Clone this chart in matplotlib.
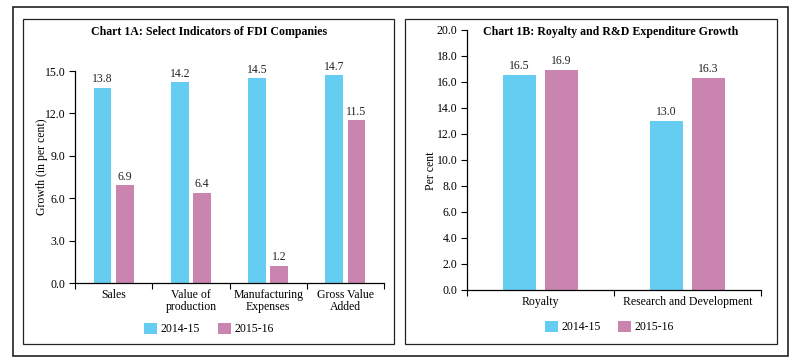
import numpy as np
import matplotlib.pyplot as plt
from matplotlib.patches import Rectangle

plt.rcParams['font.family'] = ['Liberation Serif', 'DejaVu Serif']

# Data
cats_a = ['Sales', 'Value of\nproduction', 'Manufacturing\nExpenses', 'Gross Value\nAdded']
a_1415 = [13.8, 14.2, 14.5, 14.7]
a_1516 = [6.9, 6.4, 1.2, 11.5]

cats_b = ['Royalty', 'Research and Development']
b_1415 = [16.5, 13.0]
b_1516 = [16.9, 16.3]

series = ['2014-15', '2015-16']
blue = '#66CDF2'
pink = '#C985B0'

W, H = 799, 362
fig = plt.figure(figsize=(W / 100, H / 100), dpi=100)

def box(x0, y0, x1, y1, lw=1.2):
    fig.patches.append(Rectangle((x0 / W, 1 - y1 / H), (x1 - x0) / W, (y1 - y0) / H,
                                 transform=fig.transFigure, fill=False,
                                 edgecolor='#222222', linewidth=lw))

box(13, 7, 788, 356)
box(23, 19, 394, 344, lw=0.9)
box(405, 19, 777, 344, lw=0.9)

def axes_px(x0, y0, x1, y1):
    return fig.add_axes([x0 / W, 1 - y1 / H, (x1 - x0) / W, (y1 - y0) / H])

def draw(ax, cats, v1, v2, ymax, step, ylabel):
    x = np.arange(len(cats))
    w = 0.23
    off = 0.143
    b1 = ax.bar(x - off, v1, w, color=blue, label=series[0])
    b2 = ax.bar(x + off, v2, w, color=pink, label=series[1])
    for bars, vals in ((b1, v1), (b2, v2)):
        for r, v in zip(bars, vals):
            ax.text(r.get_x() + r.get_width() / 2, v + ymax * 0.012, f'{v:.1f}',
                    ha='center', va='bottom', fontsize=8.5, color='#222222')
    ax.set_xlim(-0.5, len(cats) - 0.5)
    ax.set_ylim(0, ymax)
    ax.set_yticks(np.arange(0, ymax + 0.01, step))
    ax.set_yticklabels([f'{t:.1f}' for t in np.arange(0, ymax + 0.01, step)], fontsize=8.5)
    ax.set_xticks(np.arange(-0.5, len(cats)), minor=False)
    ax.set_xticklabels([])
    ax.set_xticks(x, minor=True)
    ax.set_xticklabels(cats, minor=True, fontsize=8.5, linespacing=1.1)
    ax.tick_params(axis='x', which='minor', length=0, pad=4)
    ax.tick_params(axis='x', which='major', length=4, direction='out')
    ax.tick_params(axis='y', length=4, direction='out', pad=3)
    for s in ('top', 'right'):
        ax.spines[s].set_visible(False)
    for s in ('left', 'bottom'):
        ax.spines[s].set_linewidth(0.9)
    ax.set_ylabel(ylabel, fontsize=8.5)

ax1 = axes_px(75, 71, 384, 283)
draw(ax1, cats_a, a_1415, a_1516, 15.0, 3.0, 'Growth (in per cent)')
ax1.yaxis.set_label_coords(-0.087, 0.55)
ax1.legend(loc='center', bbox_to_anchor=(0.434, -0.217), ncol=2, frameon=False,
           fontsize=8.5, handlelength=1.1, handleheight=1.1, handletextpad=0.3,
           columnspacing=1.5)
fig.text(209 / W, 1 - 32 / H, 'Chart 1A: Select Indicators of FDI Companies',
         ha='center', va='center', fontsize=8.6, fontweight='bold')

ax2 = axes_px(467, 30, 761, 290)
draw(ax2, cats_b, b_1415, b_1516, 20.0, 2.0, 'Per cent')
ax2.yaxis.set_label_coords(-0.102, 0.46)
ax2.legend(loc='center', bbox_to_anchor=(0.485, -0.142), ncol=2, frameon=False,
           fontsize=8.5, handlelength=1.1, handleheight=1.1, handletextpad=0.3,
           columnspacing=1.5)
fig.text(611 / W, 1 - 32 / H, 'Chart 1B: Royalty and R&D Expenditure Growth',
         ha='center', va='center', fontsize=8.6, fontweight='bold')

fig.savefig('out.png', dpi=100)
